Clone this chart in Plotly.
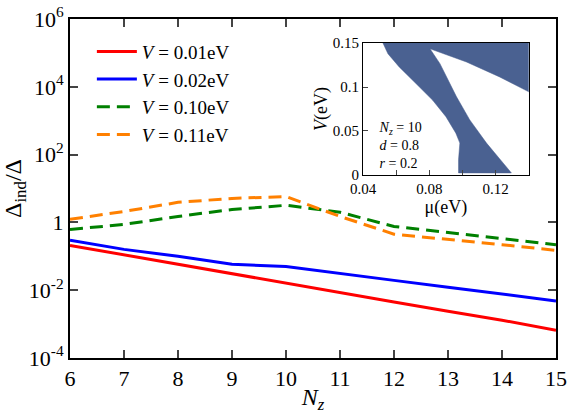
import plotly.graph_objects as go

Nz = [6, 7, 8, 9, 10, 11, 12, 13, 14, 15]
v001 = [0.21, 0.11, 0.058, 0.031, 0.016, 0.0085, 0.0045, 0.0024, 0.0013, 0.00066]
v002 = [0.30, 0.16, 0.10, 0.058, 0.050, 0.032, 0.0195, 0.0123, 0.0076, 0.0048]
v010 = [0.62, 0.87, 1.5, 2.4, 3.2, 2.0, 0.76, 0.50, 0.34, 0.22]
v011 = [1.23, 2.1, 3.9, 5.1, 5.8, 1.5, 0.45, 0.32, 0.22, 0.15]
labels = ["<i>V</i> = 0.01eV", "<i>V</i> = 0.02eV", "<i>V</i> = 0.10eV", "<i>V</i> = 0.11eV"]
colors = ["#ff0000", "#0000ff", "#008000", "#ff8000"]
dashes = ["solid", "solid", "13px,7px", "13px,7px"]

# inset region boundary (mu in eV, V in eV)
mu_b = [0.0520, 0.1400, 0.1400, 0.1224, 0.1024, 0.0884, 0.0804, 0.0864, 0.0924,
        0.0964, 0.1044, 0.1145, 0.1245, 0.1295, 0.0976, 0.0976, 0.0984, 0.0960,
        0.0900, 0.0819, 0.0719, 0.0618, 0.0550, 0.0520]
V_b = [0.1500, 0.1500, 0.0945, 0.1115, 0.1285, 0.1379, 0.1435, 0.1266, 0.1040,
       0.0889, 0.0626, 0.0362, 0.0136, 0.0023, 0.0023, 0.0173, 0.0362, 0.0475,
       0.0663, 0.0852, 0.1040, 0.1228, 0.1379, 0.1500]
inset_text = ["<i>N<sub>z</sub></i> = 10", "<i>d</i> = 0.8", "<i>r</i> = 0.2"]
inset_text_V = [0.053, 0.032, 0.012]

SERIF = "Liberation Serif"

fig = go.Figure()
for y, name, c, d in zip([v001, v002, v010, v011], labels, colors, dashes):
    fig.add_trace(go.Scatter(x=Nz, y=y, mode="lines", name=name,
                             line=dict(color=c, width=3, dash=d)))

fig.add_trace(go.Scatter(x=mu_b, y=V_b, mode="lines", fill="toself",
                         fillcolor="#4a6191", line=dict(color="#4a6191", width=0.5),
                         xaxis="x2", yaxis="y2", showlegend=False, hoverinfo="skip"))
fig.add_trace(go.Scatter(x=[0.050] * 3, y=inset_text_V, mode="text", text=inset_text,
                         textposition="middle right",
                         textfont=dict(family=SERIF, size=14, color="black"),
                         xaxis="x2", yaxis="y2", showlegend=False, hoverinfo="skip"))

font = dict(family=SERIF, size=22, color="black")
fig.update_layout(
    width=579, height=414,
    margin=dict(l=70, r=23, t=19, b=56),
    paper_bgcolor="white", plot_bgcolor="white",
    font=font,
    showlegend=True,
    legend=dict(x=0.045, y=0.96, xanchor="left", yanchor="top",
                bgcolor="rgba(0,0,0,0)", font=dict(family=SERIF, size=19, color="black"),
                tracegroupgap=0, itemwidth=40),
    xaxis=dict(range=[6, 15], tickvals=Nz, ticks="inside", ticklen=8, tickwidth=1.5,
               showline=True, linewidth=2, linecolor="black", mirror="ticks",
               showgrid=False, zeroline=False, tickfont=font, automargin=False,
               title=dict(text="<i>N<sub>z</sub></i>", font=dict(family=SERIF, size=24, color="black"),
                          standoff=2)),
    yaxis=dict(type="log", range=[-4, 6],
               tickvals=[1e-4, 1e-2, 1, 1e2, 1e4, 1e6],
               ticktext=["10<sup>-4</sup>", "10<sup>-2</sup>", "1", "10<sup>2</sup>",
                         "10<sup>4</sup>", "10<sup>6</sup>"],
               ticks="inside", ticklen=8, tickwidth=1.5,
               showline=True, linewidth=2, linecolor="black", mirror="ticks",
               showgrid=False, zeroline=False, tickfont=font, automargin=False,
               title=dict(text="Δ<sub>ind</sub>/Δ", font=dict(family=SERIF, size=24, color="black"),
                          standoff=4)),
    xaxis2=dict(domain=[0.603, 0.944], anchor="y2", range=[0.04, 0.14],
                tickvals=[0.04, 0.06, 0.08, 0.10, 0.12, 0.14],
                ticktext=["0.04", "", "0.08", "", "0.12", ""],
                ticks="inside", ticklen=5, tickwidth=1,
                showline=True, linewidth=1, linecolor="black", mirror=True,
                showgrid=False, zeroline=False, automargin=False,
                tickfont=dict(family=SERIF, size=15, color="black"),
                title=dict(text="μ(eV)", font=dict(family=SERIF, size=18, color="black"), standoff=0)),
    yaxis2=dict(domain=[0.540, 0.929], anchor="x2", range=[0, 0.15],
                tickvals=[0, 0.05, 0.1, 0.15], ticktext=["0", "0.05", "0.1", "0.15"],
                ticks="inside", ticklen=5, tickwidth=1,
                showline=True, linewidth=1, linecolor="black", mirror=True,
                showgrid=False, zeroline=False, automargin=False,
                tickfont=dict(family=SERIF, size=15, color="black"),
                title=dict(text="<i>V</i>(eV)", font=dict(family=SERIF, size=18, color="black"), standoff=0)),
)
fig.write_html("out.html")
